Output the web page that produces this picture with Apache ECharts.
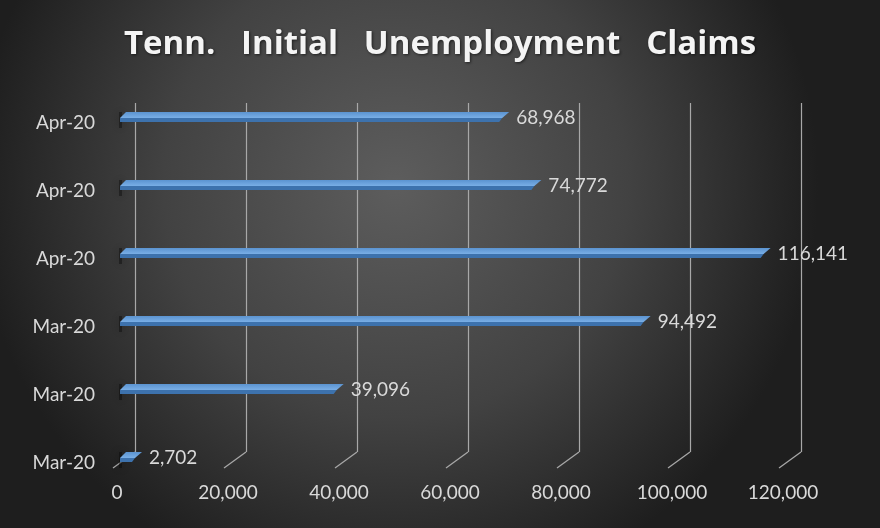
<!DOCTYPE html>
<html>
<head>
<meta charset="utf-8">
<script src="https://cdn.jsdelivr.net/npm/echarts@6/dist/echarts.min.js"></script>
<style>
html,body{margin:0;padding:0;background:#333;}
#chart{width:880px;height:528px;}
</style>
</head>
<body>
<div id="chart"></div>
<script>
// Data (bottom to top, as drawn on the category axis)
var categories = ['Mar-20', 'Mar-20', 'Mar-20', 'Apr-20', 'Apr-20', 'Apr-20'];
var claims = [2702, 39096, 94492, 116141, 74772, 68968];
var xTicks = [0, 20000, 40000, 60000, 80000, 100000, 120000];
var titleText = 'Tenn.   Initial   Unemployment   Claims';

var chart = echarts.init(document.getElementById('chart'));
var fontFam = 'Lato, "Open Sans", sans-serif';

function fmt(v) { return v.toLocaleString('en-US'); }

var barData = claims.map(function (v, i) { return [v, i]; });
var slantData = xTicks.map(function (v) { return [v, 0]; });

var option = {
  backgroundColor: {
    type: 'radial', x: 0.45, y: 0.35, r: 0.8,
    colorStops: [
      { offset: 0, color: '#5d5d5d' },
      { offset: 0.55, color: '#424242' },
      { offset: 1, color: '#1e1e1e' }
    ]
  },
  title: {
    text: titleText,
    left: 'center',
    top: 23,
    textStyle: {
      color: '#f4f4f4', fontSize: 33, fontWeight: 'bold', fontFamily: '"Open Sans", Lato, sans-serif',
      textShadowColor: 'rgba(0,0,0,0.6)', textShadowBlur: 3, textShadowOffsetX: 1, textShadowOffsetY: 1
    }
  },
  grid: [
    { left: 135, right: 79, top: 103, height: 349 },
    { left: 120, right: 95, top: 83, bottom: 37 },
    { left: 117, right: 97, top: 83, bottom: 37 }
  ],
  xAxis: [
    {
      gridIndex: 0, type: 'value', min: 0, max: 120000, interval: 20000,
      axisLine: { show: false }, axisTick: { show: false }, axisLabel: { show: false },
      splitLine: { show: true, lineStyle: { color: '#a8a8a8', width: 1.2 } }
    },
    {
      gridIndex: 1, type: 'value', min: 0, max: 120000, interval: 20000, show: false
    },
    {
      gridIndex: 2, type: 'value', min: 0, max: 120000, interval: 20000,
      axisLine: { show: false }, axisTick: { show: false }, splitLine: { show: false },
      axisLabel: {
        color: '#d9d9d9', fontSize: 19, fontFamily: fontFam, margin: 2, verticalAlign: 'middle',
        formatter: function (v) { return fmt(v); }
      }
    }
  ],
  yAxis: [
    { gridIndex: 0, type: 'value', min: 0, max: 1, show: false },
    {
      gridIndex: 1, type: 'category', data: categories,
      axisLine: { show: false }, axisTick: { show: false }, splitLine: { show: false },
      axisLabel: { color: '#d9d9d9', fontSize: 19, fontFamily: fontFam, margin: 25, verticalAlign: 'top', lineHeight: 12 }
    },
    { gridIndex: 2, type: 'value', min: 0, max: 1, show: false }
  ],
  series: [
    {
      type: 'custom', xAxisIndex: 0, yAxisIndex: 0, silent: true,
      data: slantData,
      renderItem: function (params, api) {
        var p = api.coord([api.value(0), api.value(1)]);
        return {
          type: 'line',
          shape: { x1: p[0], y1: p[1], x2: p[0] - 22, y2: p[1] + 16 },
          style: { stroke: '#a8a8a8', lineWidth: 1.2 }
        };
      }
    },
    {
      type: 'custom', xAxisIndex: 1, yAxisIndex: 1, silent: true,
      data: barData,
      renderItem: function (params, api) {
        var v = api.value(0);
        var p0 = api.coord([0, api.value(1)]);
        var p1 = api.coord([v, api.value(1)]);
        var x0 = p0[0], x1 = p1[0], yc = p0[1];
        return {
          type: 'group',
          children: [
            {
              type: 'rect',
              shape: { x: x0 - 1, y: yc - 5, width: 3, height: 16 },
              style: { fill: 'rgba(0,0,0,0.35)', shadowBlur: 8, shadowColor: 'rgba(0,0,0,0.9)' }
            },
            {
              type: 'polygon',
              shape: { points: [[x0, yc + 1], [x1, yc + 1], [x1 - 3, yc + 5], [x0, yc + 5]] },
              style: { fill: '#3d72ad' }
            },
            {
              type: 'polygon',
              shape: { points: [[x0, yc + 1], [x0 + 6, yc - 5], [x1 + 7, yc - 5], [x1, yc + 1]] },
              style: {
                fill: { type: 'linear', x: 0, y: 0, x2: 0, y2: 1, colorStops: [
                  { offset: 0, color: '#5b93d0' }, { offset: 1, color: '#79aee6' } ] }
              }
            },
            {
              type: 'text',
              style: {
                x: x1 + 14, y: yc + 1, text: fmt(v), fill: '#d9d9d9', fontSize: 19, fontFamily: fontFam,
                align: 'left', verticalAlign: 'middle'
              }
            }
          ]
        };
      }
    }
  ]
};
chart.setOption(option);
</script>
</body>
</html>
